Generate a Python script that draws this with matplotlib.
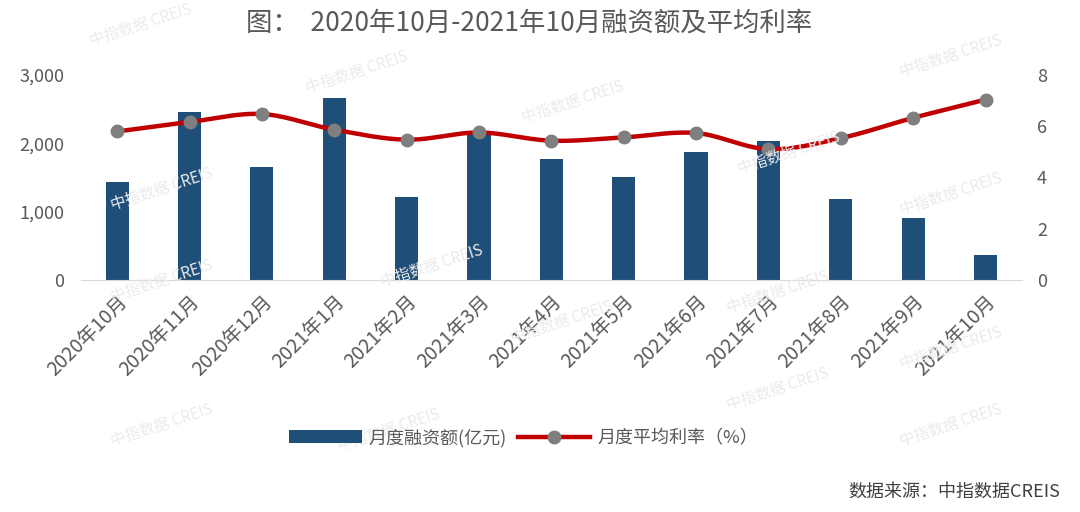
import matplotlib.pyplot as plt
import numpy as np
from matplotlib.ticker import FuncFormatter

plt.rcParams['font.family'] = ['Noto Sans CJK SC', 'DejaVu Sans']

# data
months = ['2020年10月', '2020年11月', '2020年12月', '2021年1月', '2021年2月', '2021年3月',
          '2021年4月', '2021年5月', '2021年6月', '2021年7月', '2021年8月', '2021年9月', '2021年10月']
amount = [1440, 2460, 1645, 2660, 1220, 2160, 1765, 1505, 1870, 2035, 1180, 910, 365]
rate = [5.79, 6.16, 6.47, 5.86, 5.47, 5.75, 5.43, 5.56, 5.73, 5.10, 5.53, 6.32, 7.03]

BAR_COLOR = '#1F4E79'
LINE_COLOR = '#C00000'
TEXT_COLOR = '#595959'


def smooth(xs, ys, n=30):
    # Catmull-Rom curve through the points, like a spreadsheet "smoothed line"
    xs = np.asarray(xs, float)
    ys = np.asarray(ys, float)
    px = np.concatenate([[2 * xs[0] - xs[1]], xs, [2 * xs[-1] - xs[-2]]])
    py = np.concatenate([[2 * ys[0] - ys[1]], ys, [2 * ys[-1] - ys[-2]]])
    out_x, out_y = [], []
    t = np.linspace(0, 1, n)
    for i in range(1, len(px) - 2):
        for p, out in ((px, out_x), (py, out_y)):
            p0, p1, p2, p3 = p[i - 1], p[i], p[i + 1], p[i + 2]
            seg = 0.5 * ((2 * p1) + (-p0 + p2) * t + (2 * p0 - 5 * p1 + 4 * p2 - p3) * t ** 2
                         + (-p0 + 3 * p1 - 3 * p2 + p3) * t ** 3)
            out.extend(seg)
    return out_x, out_y


fig = plt.figure(figsize=(10.8, 5.12), dpi=100)
ax = fig.add_axes([0.075, 0.453, 0.871, 0.401])
ax2 = ax.twinx()

x = np.arange(len(months))
bars = ax.bar(x, amount, width=0.32, color=BAR_COLOR, zorder=2, label='月度融资额(亿元)')

sx, sy = smooth(x, rate)
ax2.plot(sx, sy, color=LINE_COLOR, lw=3.2, zorder=3, solid_capstyle='round')
ax2.plot(x, rate, 'o', color='#7F7F7F', ms=9, zorder=4)
line_handle = plt.Line2D([], [], color=LINE_COLOR, lw=3.2, marker='o', ms=9,
                         markerfacecolor='#7F7F7F', markeredgecolor='#7F7F7F')

ax.set_xlim(-0.5, len(months) - 0.5)
ax.set_ylim(0, 3000)
ax.set_yticks([0, 1000, 2000, 3000])
ax.yaxis.set_major_formatter(FuncFormatter(lambda v, p: f'{int(v):,}'))
ax2.set_ylim(0, 8)
ax2.set_yticks([0, 2, 4, 6, 8])

for a in (ax, ax2):
    for s in a.spines.values():
        s.set_visible(False)
    a.tick_params(length=0, colors=TEXT_COLOR, labelsize=13)
ax.spines['bottom'].set_visible(True)
ax.spines['bottom'].set_color('#D9D9D9')
ax.tick_params(axis='y', pad=12)
ax2.tick_params(axis='y', pad=11)

ax.set_xticks(x)
ax.set_xticklabels(months, rotation=45, ha='right', rotation_mode='anchor', fontsize=14)
ax.tick_params(axis='x', pad=8)

fig.text(0.49, 0.955, '图：  2020年10月-2021年10月融资额及平均利率', ha='center', va='center',
         fontsize=19, color=TEXT_COLOR)

fig.legend([bars, line_handle], ['月度融资额(亿元)', '月度平均利率（%）'], loc='center',
           bbox_to_anchor=(0.485, 0.145), ncol=2, frameon=False, fontsize=13,
           labelcolor=TEXT_COLOR, handlelength=4, columnspacing=0.6, handletextpad=0.4)

fig.text(0.982, 0.04, '数据来源：中指数据CREIS', ha='right', va='center', fontsize=13,
         color='#404040')

# faint watermarks
marks = [(0.13, 0.95), (0.33, 0.86), (0.53, 0.80), (0.88, 0.89), (0.15, 0.63), (0.40, 0.48),
         (0.73, 0.70), (0.88, 0.62), (0.15, 0.45), (0.52, 0.37), (0.72, 0.43), (0.88, 0.32),
         (0.15, 0.17), (0.36, 0.16), (0.72, 0.24), (0.88, 0.17)]
for mx, my in marks:
    fig.text(mx, my, '中指数据 CREIS', rotation=18, ha='center', va='center', fontsize=11,
             color='#EBEBEB', zorder=0)

fig.savefig('out.png', dpi=100, facecolor='white')
